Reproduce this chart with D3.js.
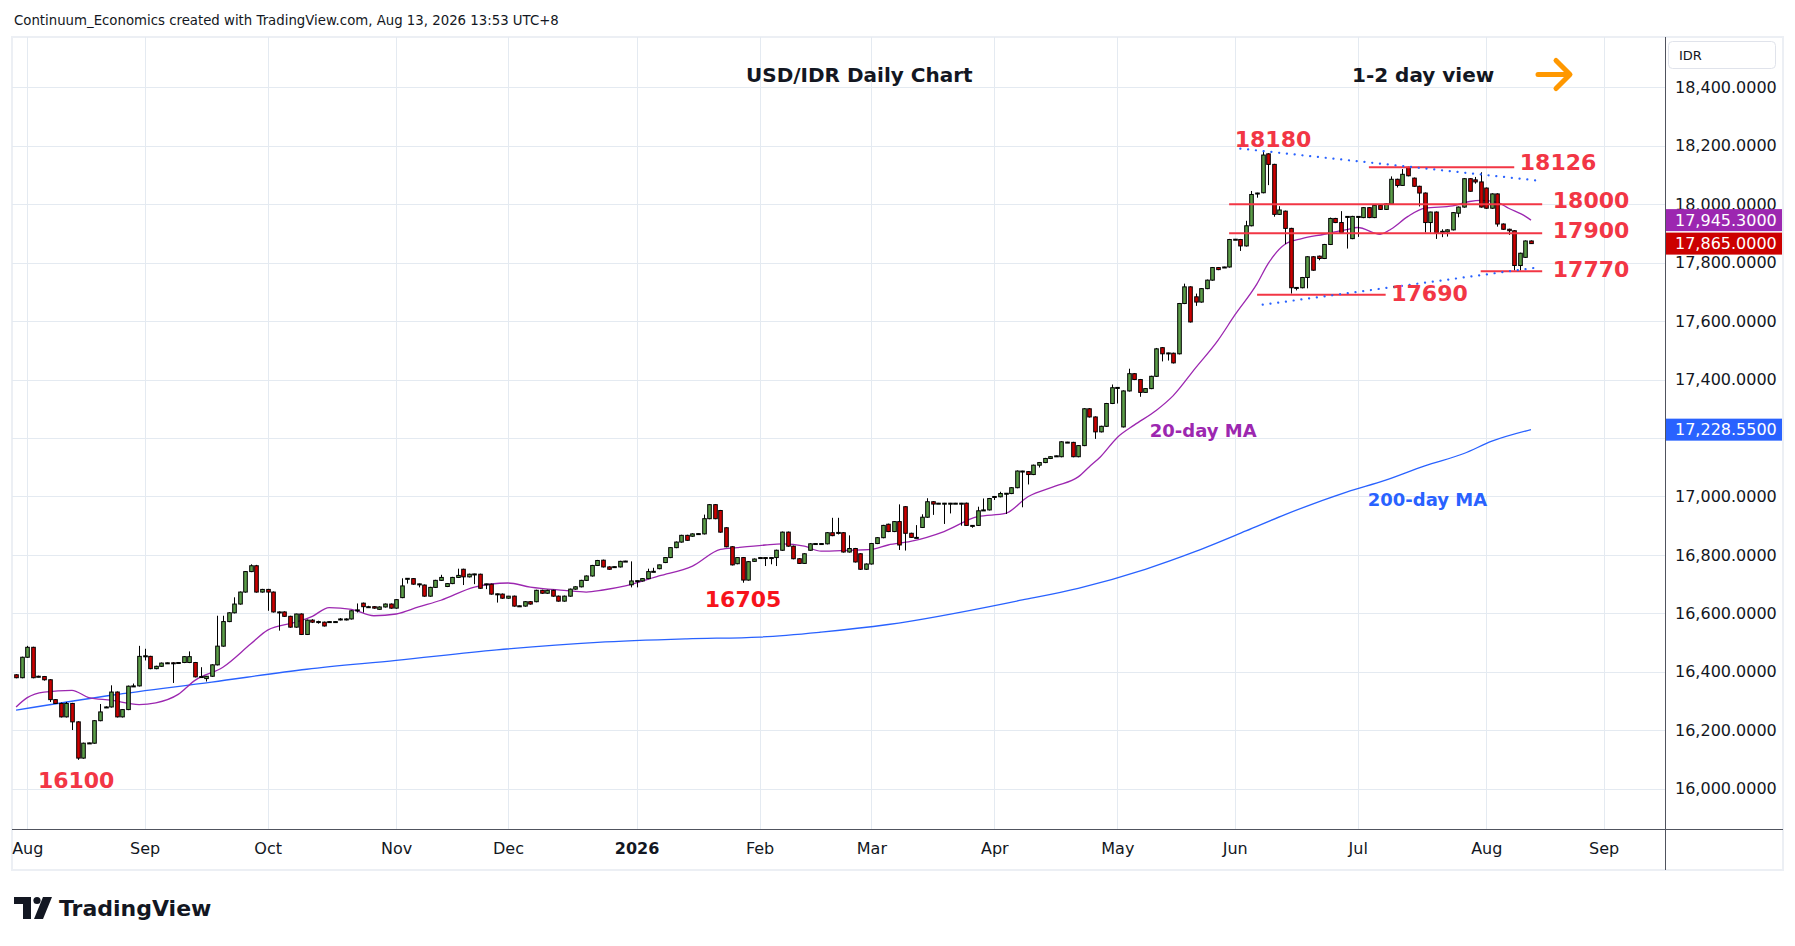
<!DOCTYPE html>
<html lang="en">
<head>
<meta charset="utf-8">
<title>USD/IDR Daily Chart</title>
<script src="https://cdn.jsdelivr.net/npm/d3@7"></script>
<style>
  html, body { margin: 0; padding: 0; background: #ffffff; }
  svg { display: block; font-family: "DejaVu Sans", sans-serif; }
</style>
</head>
<body>
<script>
// one bar per weekday, first bar = 30 Jul 2025, last bar = 13 Aug 2026
const firstDay = "2025-07-30";

const opens = [
  16390,16380,16450,16484,16384,16384,16373,16305,16292,16246,
  16292,16229,16105,16156,16156,16233,16279,16280,16331,16246,
  16271,16351,16352,16454,16453,16411,16419,16430,16431,16431,
  16432,16432,16432,16383,16377,16385,16424,16488,16572,16602,
  16632,16673,16743,16763,16673,16682,16673,16605,16605,16590,
  16553,16598,16528,16577,16571,16570,16571,16572,16578,16578,
  16581,16611,16635,16623,16623,16614,16622,16632,16618,16654,
  16719,16719,16700,16697,16659,16689,16713,16692,16702,16723,
  16751,16725,16734,16734,16700,16700,16666,16666,16652,16659,
  16625,16625,16640,16640,16679,16669,16679,16659,16642,16659,
  16683,16691,16713,16728,16764,16782,16759,16759,16759,16778,
  16698,16711,16711,16719,16743,16753,16774,16791,16825,16844,
  16867,16864,16872,16872,16924,16972,16952,16893,16828,16770,
  16791,16714,16778,16790,16790,16790,16791,16816,16878,16830,
  16787,16771,16816,16838,16838,16838,16876,16876,16876,16810,
  16822,16804,16751,16769,16839,16859,16905,16880,16914,16965,
  16874,16859,16894,16929,16982,16976,16976,16976,16976,16976,
  16977,16900,16901,16953,16954,16999,16999,17010,17010,17030,
  17086,17085,17075,17107,17116,17130,17138,17136,17185,17185,
  17136,17174,17300,17272,17221,17240,17318,17372,17238,17361,
  17420,17400,17356,17369,17411,17509,17490,17490,17488,17660,
  17717,17683,17665,17711,17740,17783,17784,17785,17879,17879,
  17857,17926,18037,18039,18172,18136,17965,17976,17917,17714,
  17714,17749,17820,17822,17814,17862,17951,17937,17957,17882,
  17957,17954,17988,17954,17996,17982,18001,18085,18064,18126,
  18089,18061,18038,17937,17973,17906,17905,17912,17969,17990,
  18087,18083,18076,18055,17986,18035,17932,17914,17909,17790,
  17818,17874
];
const highs = [
  16392,16452,16489,16486,16387,16386,16375,16307,16295,16297,
  16294,16231,16158,16158,16235,16290,16282,16354,16333,16273,
  16353,16360,16489,16479,16455,16421,16432,16432,16433,16433,
  16454,16470,16434,16416,16386,16426,16592,16592,16604,16655,
  16675,16745,16768,16766,16684,16684,16675,16607,16607,16592,
  16599,16600,16579,16580,16575,16572,16574,16574,16584,16583,
  16611,16634,16637,16626,16625,16624,16634,16634,16649,16720,
  16721,16721,16702,16699,16691,16715,16732,16704,16725,16753,
  16753,16736,16736,16736,16702,16702,16668,16668,16660,16661,
  16627,16642,16642,16681,16681,16681,16681,16661,16661,16685,
  16693,16715,16730,16766,16783,16784,16761,16761,16780,16780,
  16778,16713,16721,16753,16756,16767,16792,16826,16846,16869,
  16869,16874,16874,16938,16974,16974,16954,16895,16830,16792,
  16793,16779,16788,16792,16792,16792,16818,16880,16880,16832,
  16789,16806,16840,16840,16840,16878,16927,16927,16878,16867,
  16824,16806,16771,16841,16861,16903,16907,16916,16973,16967,
  16876,16902,16939,16994,16984,16978,16978,16978,16978,16978,
  16979,16902,16965,16993,16995,17001,17016,17012,17032,17089,
  17088,17087,17109,17118,17132,17138,17140,17189,17187,17187,
  17176,17302,17302,17274,17242,17320,17383,17374,17363,17437,
  17422,17402,17371,17413,17508,17511,17492,17492,17662,17728,
  17719,17694,17713,17742,17785,17785,17786,17881,17881,17881,
  17943,18045,18039,18180,18174,18138,17993,17978,17919,17716,
  17751,17822,17822,17824,17864,17954,17953,17976,17959,17960,
  17959,17990,17990,17997,17998,18003,18095,18087,18120,18128,
  18091,18063,18040,17974,17975,17914,17914,17973,17992,18089,
  18089,18093,18109,18057,18037,18037,17934,17916,17911,17834,
  17876,17876
];
const lows = [
  16378,16378,16448,16378,16381,16370,16297,16290,16244,16244,
  16201,16099,16103,16154,16154,16231,16277,16278,16244,16244,
  16269,16349,16350,16439,16409,16409,16417,16428,16362,16429,
  16430,16430,16381,16381,16367,16383,16422,16486,16570,16600,
  16630,16671,16741,16671,16671,16609,16603,16541,16588,16551,
  16551,16526,16526,16567,16565,16555,16569,16570,16576,16576,
  16579,16603,16603,16620,16616,16612,16620,16616,16616,16652,
  16702,16698,16689,16657,16657,16687,16711,16690,16700,16721,
  16697,16723,16700,16684,16683,16664,16637,16650,16650,16623,
  16623,16623,16630,16638,16667,16667,16657,16640,16640,16657,
  16681,16689,16711,16726,16762,16757,16749,16757,16757,16776,
  16689,16689,16709,16717,16741,16751,16772,16789,16823,16842,
  16848,16862,16870,16870,16922,16922,16876,16826,16764,16768,
  16705,16712,16776,16788,16762,16768,16762,16814,16828,16785,
  16769,16769,16814,16836,16836,16836,16864,16870,16808,16808,
  16774,16749,16749,16767,16837,16857,16878,16878,16817,16815,
  16858,16857,16892,16927,16937,16974,16906,16942,16974,16900,
  16899,16893,16899,16951,16952,16988,16997,16940,17008,17028,
  16963,17041,17073,17099,17114,17128,17136,17134,17183,17134,
  17134,17172,17270,17197,17219,17238,17316,17318,17236,17359,
  17398,17341,17354,17367,17409,17462,17465,17455,17486,17658,
  17595,17652,17663,17709,17738,17774,17782,17783,17877,17840,
  17855,17924,18022,18037,18065,17957,17963,17863,17694,17705,
  17712,17712,17772,17808,17812,17860,17935,17901,17848,17880,
  17888,17952,17952,17952,17980,17980,17999,18057,18062,18095,
  18059,17992,17903,17903,17881,17887,17889,17910,17955,17988,
  18043,18070,17988,17984,17984,17923,17912,17895,17773,17773,
  17816,17864
];
const closes = [
  16380,16450,16484,16380,16385,16373,16305,16292,16246,16292,
  16229,16105,16156,16157,16233,16263,16280,16331,16246,16271,
  16351,16352,16453,16455,16411,16419,16430,16431,16430,16432,
  16452,16452,16383,16384,16385,16424,16488,16572,16602,16632,
  16673,16743,16763,16673,16682,16673,16605,16604,16590,16553,
  16598,16528,16577,16570,16572,16557,16572,16572,16581,16581,
  16609,16612,16623,16623,16618,16622,16632,16618,16647,16694,
  16720,16700,16701,16659,16689,16713,16723,16702,16723,16730,
  16725,16734,16735,16686,16701,16666,16667,16652,16659,16625,
  16626,16640,16632,16679,16669,16679,16659,16642,16659,16683,
  16691,16713,16728,16764,16781,16759,16751,16760,16778,16779,
  16711,16712,16719,16743,16744,16766,16791,16825,16844,16867,
  16850,16872,16873,16924,16972,16924,16878,16828,16766,16791,
  16714,16777,16786,16791,16791,16791,16816,16878,16830,16787,
  16771,16804,16838,16839,16839,16876,16866,16877,16810,16822,
  16776,16751,16769,16839,16859,16901,16880,16914,16834,16874,
  16860,16860,16929,16982,16974,16977,16977,16977,16977,16977,
  16901,16901,16951,16954,16993,17000,17010,17011,17030,17087,
  17087,17075,17107,17116,17130,17136,17139,17187,17186,17136,
  17174,17300,17272,17221,17240,17318,17372,17373,17361,17420,
  17400,17356,17369,17411,17505,17488,17491,17457,17660,17717,
  17597,17665,17711,17740,17783,17776,17785,17879,17880,17857,
  17926,18033,18038,18168,18136,17965,17980,17917,17714,17715,
  17749,17820,17774,17814,17862,17951,17937,17903,17958,17958,
  17958,17988,17954,17996,17982,18001,18085,18064,18102,18097,
  18061,18038,17937,17973,17903,17907,17912,17971,17990,18087,
  18044,18076,17990,17986,18035,17932,17914,17909,17790,17832,
  17874,17865
];

// moving averages: [bar number, value]
const ma20 = [
  [0,16280],[2,16312],[5,16331],[10,16337],[13,16312],[17,16303],[22,16288],[25,16294],
  [29,16323],[32,16371],[37,16416],[42,16496],[45,16543],[50,16570],[53,16590],[56,16620],
  [60,16614],[64,16592],[68,16598],[72,16622],[76,16645],[82,16690],[88,16704],[92,16690],
  [98,16679],[102,16673],[105,16680],[109,16694],[115,16728],[121,16762],[126,16819],
  [129,16825],[134,16834],[137,16838],[141,16830],[144,16813],[149,16816],[153,16819],
  [156,16834],[160,16846],[166,16880],[172,16931],[177,16942],[181,16999],[186,17036],
  [190,17067],[192,17102],[194,17136],[197,17202],[200,17244],[204,17295],[207,17345],
  [211,17440],[215,17534],[218,17620],[222,17728],[224,17797],[227,17863],[230,17882],
  [234,17897],[238,17913],[240,17920],[244,17897],[246,17915],[249,17958],[252,17986],
  [257,17994],[260,18009],[262,18013],[265,18006],[267,17986],[270,17958],[271,17945.3]
];
const ma200 = [
  [0,16269],[17,16320],[35,16365],[52,16409],[68,16439],[86,16475],[104,16501],
  [120,16513],[133,16519],[144,16536],[156,16562],[180,16646],[190,16686],[202,16751],
  [211,16812],[220,16882],[227,16938],[238,17015],[245,17056],[252,17105],[259,17147],
  [264,17189],[271,17228.55]
];

const priceTicks = [16000,16200,16400,16600,16800,17000,17200,17400,17600,17800,18000,18200,18400];
const monthLabels = ["Aug","Sep","Oct","Nov","Dec","2026","Feb","Mar","Apr","May","Jun","Jul","Aug","Sep"];

// horizontal levels: value, first day, last day
const levels = [
  { value: 18126, from: "2026-07-03", to: "2026-08-10" },
  { value: 18000, from: "2026-05-29", to: "2026-08-17" },
  { value: 17900, from: "2026-05-29", to: "2026-08-17" },
  { value: 17770, from: "2026-07-31", to: "2026-08-17" },
  { value: 17690, from: "2026-06-05", to: "2026-07-08" }
];
// dotted trend lines
const trends = [
  [["2026-06-02", 18190], ["2026-08-14", 18081]],
  [["2026-06-08", 17656], ["2026-08-14", 17783]]
];
// text notes: label, bar, price, colour
const notes = [
  ["18180", 218.0, 18220, "#f23645"],
  ["18126", 269.0, 18141, "#f23645"],
  ["18000", 274.9, 18011, "#f23645"],
  ["17900", 274.9, 17909, "#f23645"],
  ["17770", 274.9, 17778, "#f23645"],
  ["17690", 246.0, 17696, "#f23645"],
  ["16705", 123.2, 16649, "#f7131b"],
  ["16100", 3.9, 16027, "#f23645"]
];
const maNotes = [
  ["20-day MA", 202.8, 17227, "#9c27b0"],
  ["200-day MA", 241.8, 16988, "#2962ff"]
];
const lastValues = [
  { value: 17945.3, fill: "#9c27b0" },
  { value: 17865, fill: "#cc0000" },
  { value: 17228.55, fill: "#2962ff" }
];

// ---------- layout ----------
let w = 1795;
let h = 946;
let pane = { left: 12, top: 37, right: 1665, bottom: 829 };
let outer = { right: 1783, bottom: 870 };

// weekday calendar for the time axis
let dates = [];
let day = new Date(firstDay + "T00:00:00Z");
while (dates.length < 300) {
  let wd = day.getUTCDay();
  if (wd !== 0 && wd !== 6) dates.push(new Date(day));
  day = new Date(day.getTime() + 86400000);
}
let fmt = d3.utcFormat("%Y-%m-%d");
let barOf = {};
dates.forEach((d, i) => barOf[fmt(d)] = i);

let monthStarts = [];
dates.forEach((d, i) => {
  if (i > 0 && d.getUTCMonth() !== dates[i - 1].getUTCMonth()) monthStarts.push(i);
});
monthStarts = monthStarts.slice(0, monthLabels.length);

let xScale = d3.scaleLinear().domain([-0.73, 294.97]).range([pane.left, pane.right]);
let yScale = d3.scaleLinear().domain([16000, 18400]).range([788.8, 87.2]);

let svg = d3.select("body").append("svg")
  .attr("width", w)
  .attr("height", h);

svg.append("text")
  .attr("x", 14).attr("y", 25)
  .attr("font-size", 13.3).attr("fill", "#131722")
  .text("Continuum_Economics created with TradingView.com, Aug 13, 2026 13:53 UTC+8");

svg.append("rect")
  .attr("x", pane.left).attr("y", pane.top)
  .attr("width", outer.right - pane.left).attr("height", outer.bottom - pane.top)
  .attr("fill", "#ffffff").attr("stroke", "#eceff4").attr("stroke-width", 2);

svg.append("defs").append("clipPath").attr("id", "paneClip")
  .append("rect")
  .attr("x", pane.left).attr("y", pane.top)
  .attr("width", pane.right - pane.left).attr("height", pane.bottom - pane.top);

let grid = svg.append("g").attr("clip-path", "url(#paneClip)");
grid.selectAll("line.v").data(monthStarts).enter().append("line")
  .attr("x1", d => Math.round(xScale(d)) + 0.5).attr("x2", d => Math.round(xScale(d)) + 0.5)
  .attr("y1", pane.top).attr("y2", pane.bottom)
  .attr("stroke", "#e4eaf1").attr("stroke-width", 1);
grid.selectAll("line.h").data(priceTicks).enter().append("line")
  .attr("x1", pane.left).attr("x2", pane.right)
  .attr("y1", d => Math.round(yScale(d)) + 0.5).attr("y2", d => Math.round(yScale(d)) + 0.5)
  .attr("stroke", "#e4eaf1").attr("stroke-width", 1);

let chart = svg.append("g").attr("clip-path", "url(#paneClip)");

let maLine = d3.line()
  .x(d => xScale(d[0]))
  .y(d => yScale(d[1]))
  .curve(d3.curveMonotoneX);

chart.append("path").datum(ma200).attr("d", maLine)
  .attr("fill", "none").attr("stroke", "#2962ff").attr("stroke-width", 1.3);
chart.append("path").datum(ma20).attr("d", maLine)
  .attr("fill", "none").attr("stroke", "#9c27b0").attr("stroke-width", 1.3);

// candles
let bars = d3.range(closes.length);
let candles = chart.append("g");
candles.selectAll("line").data(bars).enter().append("line")
  .attr("x1", i => Math.round(xScale(i)) + 0.5)
  .attr("x2", i => Math.round(xScale(i)) + 0.5)
  .attr("y1", i => yScale(highs[i]))
  .attr("y2", i => yScale(lows[i]))
  .attr("stroke", "#000000").attr("stroke-width", 1);
candles.selectAll("rect").data(bars).enter().append("rect")
  .attr("x", i => Math.round(xScale(i)) + 0.5 - 1.8)
  .attr("width", 3.6)
  .attr("y", i => yScale(Math.max(opens[i], closes[i])))
  .attr("height", i => Math.max(1, yScale(Math.min(opens[i], closes[i])) - yScale(Math.max(opens[i], closes[i]))))
  .attr("fill", i => closes[i] >= opens[i] ? "#5b9d48" : "#cc0000")
  .attr("stroke", "#000000").attr("stroke-width", 1);

// levels and trend lines
chart.selectAll("line.level").data(levels).enter().append("line")
  .attr("x1", d => xScale(barOf[d.from])).attr("x2", d => xScale(barOf[d.to]))
  .attr("y1", d => yScale(d.value)).attr("y2", d => yScale(d.value))
  .attr("stroke", "#f23645").attr("stroke-width", 2);
chart.selectAll("line.trend").data(trends).enter().append("line")
  .attr("x1", d => xScale(barOf[d[0][0]])).attr("y1", d => yScale(d[0][1]))
  .attr("x2", d => xScale(barOf[d[1][0]])).attr("y2", d => yScale(d[1][1]))
  .attr("stroke", "#2962ff").attr("stroke-width", 2.2)
  .attr("stroke-dasharray", "0.1 7.7").attr("stroke-linecap", "round");

chart.selectAll("text.note").data(notes).enter().append("text")
  .attr("x", d => xScale(d[1])).attr("y", d => yScale(d[2]))
  .attr("dominant-baseline", "central")
  .attr("font-size", 22).attr("font-weight", "bold")
  .attr("fill", d => d[3]).text(d => d[0]);
chart.selectAll("text.ma").data(maNotes).enter().append("text")
  .attr("x", d => xScale(d[1])).attr("y", d => yScale(d[2]))
  .attr("dominant-baseline", "central")
  .attr("font-size", 18).attr("font-weight", "bold")
  .attr("fill", d => d[3]).text(d => d[0]);

// titles
svg.append("text").attr("x", 746).attr("y", 81.5)
  .attr("font-size", 20).attr("font-weight", "bold").attr("fill", "#131722")
  .text("USD/IDR Daily Chart");
svg.append("text").attr("x", 1352).attr("y", 81.5)
  .attr("font-size", 20).attr("font-weight", "bold").attr("fill", "#131722")
  .text("1-2 day view");
svg.append("path")
  .attr("d", "M1538,74.5 H1569 M1556,60.5 L1570,74.5 L1556,88.5")
  .attr("fill", "none").attr("stroke", "#ff9800").attr("stroke-width", 5)
  .attr("stroke-linecap", "round").attr("stroke-linejoin", "round");

// price axis (a tick that sits under a last-value box is not labelled)
let shownTicks = priceTicks.filter(v => !lastValues.some(b => Math.abs(yScale(b.value) - yScale(v)) < 12));
let yAxis = d3.axisRight(yScale)
  .tickValues(shownTicks)
  .tickSize(0)
  .tickPadding(10)
  .tickFormat(d3.format(",.4f"));
let yax = svg.append("g")
  .attr("transform", "translate(" + pane.right + ",0)")
  .call(yAxis);
yax.select(".domain").remove();
yax.selectAll("text").attr("font-family", "DejaVu Sans").attr("font-size", 16).attr("fill", "#131722");

let boxes = svg.append("g");
boxes.selectAll("rect").data(lastValues).enter().append("rect")
  .attr("x", pane.right).attr("width", outer.right - pane.right - 1)
  .attr("y", d => yScale(d.value) - 11).attr("height", 22)
  .attr("fill", d => d.fill);
boxes.selectAll("text").data(lastValues).enter().append("text")
  .attr("x", pane.right + 10).attr("y", d => yScale(d.value))
  .attr("dominant-baseline", "central")
  .attr("font-size", 16).attr("fill", "#ffffff")
  .text(d => d3.format(",.4f")(d.value));

svg.append("rect")
  .attr("x", 1668.5).attr("y", 41.5).attr("width", 107).attr("height", 27).attr("rx", 4)
  .attr("fill", "#ffffff").attr("stroke", "#e0e3eb");
svg.append("text").attr("x", 1679).attr("y", 60)
  .attr("font-size", 13).attr("fill", "#131722").text("IDR");

// time axis
let xAxis = d3.axisBottom(xScale)
  .tickValues(monthStarts)
  .tickSize(0)
  .tickPadding(14)
  .tickFormat((d, i) => monthLabels[i]);
let xax = svg.append("g")
  .attr("transform", "translate(0," + pane.bottom + ")")
  .call(xAxis);
xax.select(".domain").remove();
xax.selectAll("text").attr("font-family", "DejaVu Sans").attr("font-size", 16).attr("fill", "#131722")
  .attr("font-weight", (d, i) => monthLabels[i] === "2026" ? "bold" : "normal");

// pane separators
svg.append("line")
  .attr("x1", pane.right + 0.5).attr("x2", pane.right + 0.5)
  .attr("y1", pane.top).attr("y2", outer.bottom)
  .attr("stroke", "#50535e").attr("stroke-width", 1);
svg.append("line")
  .attr("x1", pane.left).attr("x2", outer.right)
  .attr("y1", pane.bottom + 0.5).attr("y2", pane.bottom + 0.5)
  .attr("stroke", "#50535e").attr("stroke-width", 1);

// TradingView mark
let logo = svg.append("g").attr("fill", "#131722");
logo.append("path").attr("d", "M14,897 H31 V919 H23 V904 H14 Z");
logo.append("circle").attr("cx", 37).attr("cy", 900.5).attr("r", 3.6);
logo.append("path").attr("d", "M43,897 H52 L43,919 H34 Z");
logo.append("text").attr("x", 59).attr("y", 916)
  .attr("font-size", 22).attr("font-weight", "bold").text("TradingView");
</script>
</body>
</html>
